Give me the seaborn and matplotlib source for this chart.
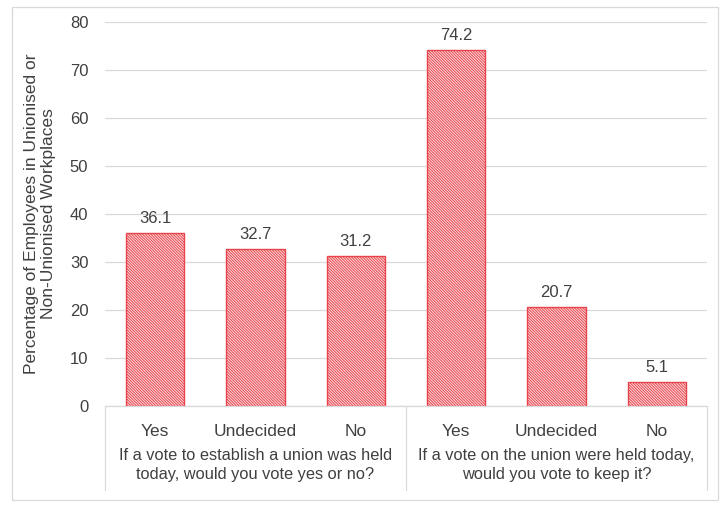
import matplotlib
matplotlib.use("Agg")
import matplotlib.pyplot as plt
import seaborn as sns
import pandas as pd
from matplotlib.patches import Rectangle

categories = ["Yes", "Undecided", "No", "Yes", "Undecided", "No"]
groups = ["If a vote to establish a union was held\ntoday, would you vote yes or no?",
          "If a vote on the union were held today,\nwould you vote to keep it?"]
values = [36.1, 32.7, 31.2, 74.2, 20.7, 5.1]
y_label = "Percentage of Employees in Unionised or\nNon-Unionised Workplaces"
y_ticks = [0, 10, 20, 30, 40, 50, 60, 70, 80]

sns.set_theme(style="white")
plt.rcParams['font.family'] = ['Liberation Sans', 'DejaVu Sans']
plt.rcParams['hatch.color'] = '#ee7a80'
plt.rcParams['hatch.linewidth'] = 0.7

df = pd.DataFrame({"pos": list(range(len(values))), "value": values})

fig = plt.figure(figsize=(7.25, 5.15), dpi=100)
ax = fig.add_axes([105/725, 1 - 406/515, 602/725, (406-22)/515])

sns.barplot(data=df, x="pos", y="value", ax=ax, width=0.58,
            color="#fbe0e1", edgecolor="#e8434b", linewidth=1.0,
            hatch="\\" * 12)
for p in ax.patches:
    p.set_facecolor("#fbe0e1")
    p.set_edgecolor("#e8434b")

ax.set_ylim(0, 80)
ax.set_xlim(-0.5, 5.5)
ax.set_yticks(y_ticks)
ax.set_yticklabels([str(t) for t in y_ticks], fontsize=12, color="#404040")
ax.tick_params(axis='y', length=0, pad=12)
ax.yaxis.grid(True, color="#d9d9d9", linewidth=0.9)
ax.set_axisbelow(True)
ax.set_xticks(range(len(categories)))
ax.set_xticklabels(categories, fontsize=12.5, color="#404040")
ax.tick_params(axis='x', length=0, pad=13)
ax.set_xlabel("")
ax.set_ylabel(y_label, fontsize=12.5, color="#404040", labelpad=10, linespacing=1.15)

for s in ["top", "right", "left"]:
    ax.spines[s].set_visible(False)
ax.spines["bottom"].set_color("#d9d9d9")
ax.spines["bottom"].set_linewidth(0.9)

for i, v in enumerate(values):
    ax.annotate(f"{v:.1f}", (i, v), xytext=(0, 5), textcoords="offset points",
                ha="center", va="bottom", fontsize=12, color="#404040")

# category axis separators
box_depth = (490 - 406) / 384
for xpos in [-0.5, 2.5, 5.5]:
    ax.plot([xpos, xpos], [0, -box_depth * 80], color="#d9d9d9", lw=0.9, clip_on=False)

for gi, g in enumerate(groups):
    ax.text(1 + 3 * gi, -(465 - 406) / 384 * 80, g, ha="center", va="center",
            fontsize=11.8, color="#404040", linespacing=1.3)

fig.patches.append(Rectangle((12/725, 1 - 500/515), (718-12)/725, (500-7)/515,
                             transform=fig.transFigure, fill=False,
                             edgecolor="#d9d9d9", lw=0.9))

fig.savefig("out.png", dpi=100)
